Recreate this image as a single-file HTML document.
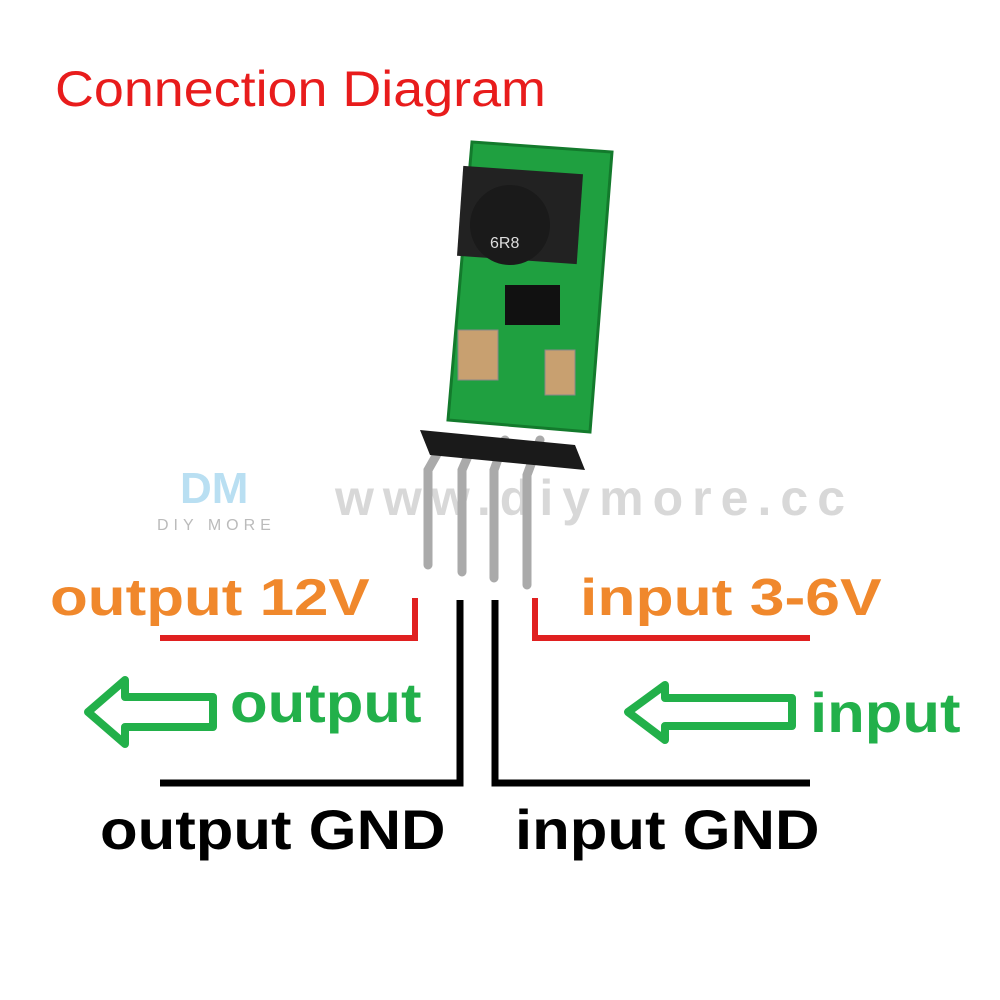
<!DOCTYPE html>
<html><head><meta charset="utf-8"><style>
html,body{margin:0;padding:0;background:#fff}
body{width:1000px;height:1000px;position:relative;overflow:hidden;font-family:"Liberation Sans",Arial,sans-serif}
.t{position:absolute;white-space:nowrap;font-weight:bold;line-height:1;transform-origin:0 0}
</style></head><body>
<svg width="1000" height="1000" style="position:absolute;left:0;top:0">
  <text x="180" y="503" font-family="Liberation Sans" font-weight="bold" font-size="44" fill="#a8d8f0" opacity="0.8">DM</text>
  <text x="157" y="530" font-family="Liberation Sans" font-size="16" fill="#bbb" letter-spacing="5">DIY MORE</text>
  <text x="335" y="515" font-family="Liberation Sans" font-weight="bold" font-size="50" fill="#ccc" opacity="0.75" textLength="510">www.diymore.cc</text>
  <g stroke="#aaa" stroke-width="9" fill="none" stroke-linecap="round">
    <path d="M445 440 L428 470 L428 565"/>
    <path d="M475 440 L462 470 L462 572"/>
    <path d="M505 440 L494 470 L494 578"/>
    <path d="M540 440 L527 475 L527 585"/>
  </g>
  <polygon points="420,430 575,445 585,470 430,455" fill="#1a1a1a"/>
  <polygon points="472,142 612,152 590,432 448,420" fill="#1fa040" stroke="#137a2c" stroke-width="3"/>
  <rect x="460" y="170" width="120" height="90" fill="#222" transform="rotate(4 520 215)"/>
  <circle cx="510" cy="225" r="40" fill="#1a1a1a"/>
  <text x="490" y="248" font-size="16" fill="#ddd" font-family="Liberation Sans">6R8</text>
  <rect x="505" y="285" width="55" height="40" fill="#111"/>
  <rect x="458" y="330" width="40" height="50" fill="#c8a070" stroke="#888"/>
  <rect x="545" y="350" width="30" height="45" fill="#c8a070" stroke="#888"/>
  <polyline points="160,638 415,638 415,598" fill="none" stroke="#e02020" stroke-width="6"/>
  <polyline points="535,598 535,638 810,638" fill="none" stroke="#e02020" stroke-width="6"/>
  <polyline points="160,783 460,783 460,600" fill="none" stroke="#000" stroke-width="7"/>
  <polyline points="495,600 495,783 810,783" fill="none" stroke="#000" stroke-width="7"/>
  <polygon points="88,712 125,680 125,697 213,697 213,727 125,727 125,744" fill="none" stroke="#22b04a" stroke-width="8" stroke-linejoin="round"/>
  <polygon points="628,712 665,685 665,698 792,698 792,726 665,726 665,740" fill="none" stroke="#22b04a" stroke-width="8" stroke-linejoin="round"/>
</svg>
<div class="t" style="left:55px;top:64px;font-size:50px;color:#e81c1c;font-weight:normal;transform:scaleX(1.077)">Connection Diagram</div>
<div class="t" style="left:50px;top:572px;font-size:52px;color:#f0882c;transform:scaleX(1.19)">output 12V</div>
<div class="t" style="left:580px;top:572px;font-size:52px;color:#f0882c;transform:scaleX(1.2)">input 3-6V</div>
<div class="t" style="left:230px;top:675px;font-size:56px;color:#22b04a;transform:scaleX(1.1)">output</div>
<div class="t" style="left:810px;top:685px;font-size:56px;color:#22b04a;transform:scaleX(1.1)">input</div>
<div class="t" style="left:100px;top:802px;font-size:56px;color:#000;transform:scaleX(1.1)">output GND</div>
<div class="t" style="left:515px;top:802px;font-size:56px;color:#000;transform:scaleX(1.1)">input GND</div>
</body></html>
